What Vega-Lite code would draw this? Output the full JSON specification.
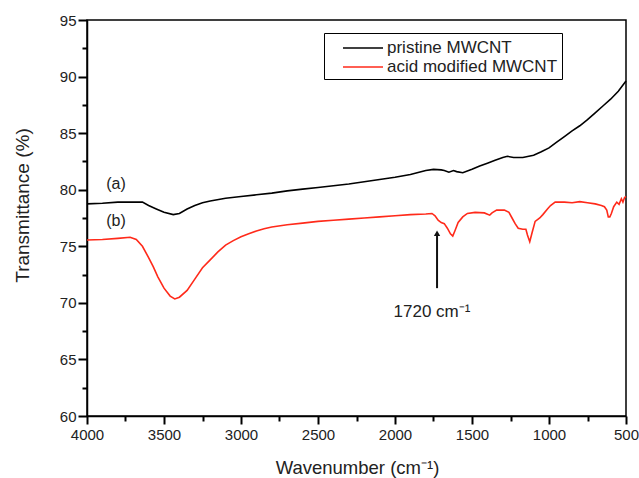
{
  "$schema": "https://vega.github.io/schema/vega-lite/v6.json",
  "autosize": {"type": "none"},
  "width": 539,
  "height": 396,
  "padding": {"left": 87, "top": 20, "right": 13, "bottom": 62},
  "background": "white",
  "config": {
    "view": {"stroke": "#000", "strokeWidth": 1.5},
    "font": "Liberation Sans",
    "axis": {"grid": false, "domainColor": "#000", "domainWidth": 1.5, "labelFont": "Liberation Sans", "labelColor": "#222", "labelFontSize": 15, "titleFont": "Liberation Sans", "titleColor": "#222", "titleFontWeight": "normal"}
  },
  "resolve": {"axis": {"x": "independent", "y": "independent"}},
  "datasets": {
    "spectra": [
      {"wn": 4000, "t": 78.75, "s": "pristine MWCNT"},
      {"wn": 3900, "t": 78.8, "s": "pristine MWCNT"},
      {"wn": 3800, "t": 78.9, "s": "pristine MWCNT"},
      {"wn": 3700, "t": 78.9, "s": "pristine MWCNT"},
      {"wn": 3640, "t": 78.9, "s": "pristine MWCNT"},
      {"wn": 3600, "t": 78.6, "s": "pristine MWCNT"},
      {"wn": 3550, "t": 78.3, "s": "pristine MWCNT"},
      {"wn": 3500, "t": 78.0, "s": "pristine MWCNT"},
      {"wn": 3440, "t": 77.8, "s": "pristine MWCNT"},
      {"wn": 3400, "t": 77.9, "s": "pristine MWCNT"},
      {"wn": 3350, "t": 78.3, "s": "pristine MWCNT"},
      {"wn": 3300, "t": 78.6, "s": "pristine MWCNT"},
      {"wn": 3250, "t": 78.85, "s": "pristine MWCNT"},
      {"wn": 3200, "t": 79.0, "s": "pristine MWCNT"},
      {"wn": 3100, "t": 79.25, "s": "pristine MWCNT"},
      {"wn": 3000, "t": 79.4, "s": "pristine MWCNT"},
      {"wn": 2900, "t": 79.55, "s": "pristine MWCNT"},
      {"wn": 2800, "t": 79.7, "s": "pristine MWCNT"},
      {"wn": 2700, "t": 79.9, "s": "pristine MWCNT"},
      {"wn": 2600, "t": 80.05, "s": "pristine MWCNT"},
      {"wn": 2500, "t": 80.2, "s": "pristine MWCNT"},
      {"wn": 2400, "t": 80.35, "s": "pristine MWCNT"},
      {"wn": 2300, "t": 80.5, "s": "pristine MWCNT"},
      {"wn": 2200, "t": 80.7, "s": "pristine MWCNT"},
      {"wn": 2100, "t": 80.9, "s": "pristine MWCNT"},
      {"wn": 2000, "t": 81.1, "s": "pristine MWCNT"},
      {"wn": 1900, "t": 81.35, "s": "pristine MWCNT"},
      {"wn": 1800, "t": 81.7, "s": "pristine MWCNT"},
      {"wn": 1750, "t": 81.8, "s": "pristine MWCNT"},
      {"wn": 1700, "t": 81.75, "s": "pristine MWCNT"},
      {"wn": 1680, "t": 81.7, "s": "pristine MWCNT"},
      {"wn": 1650, "t": 81.55, "s": "pristine MWCNT"},
      {"wn": 1620, "t": 81.7, "s": "pristine MWCNT"},
      {"wn": 1600, "t": 81.6, "s": "pristine MWCNT"},
      {"wn": 1560, "t": 81.5, "s": "pristine MWCNT"},
      {"wn": 1500, "t": 81.8, "s": "pristine MWCNT"},
      {"wn": 1450, "t": 82.1, "s": "pristine MWCNT"},
      {"wn": 1400, "t": 82.35, "s": "pristine MWCNT"},
      {"wn": 1350, "t": 82.6, "s": "pristine MWCNT"},
      {"wn": 1300, "t": 82.85, "s": "pristine MWCNT"},
      {"wn": 1270, "t": 82.95, "s": "pristine MWCNT"},
      {"wn": 1230, "t": 82.85, "s": "pristine MWCNT"},
      {"wn": 1170, "t": 82.85, "s": "pristine MWCNT"},
      {"wn": 1100, "t": 83.05, "s": "pristine MWCNT"},
      {"wn": 1050, "t": 83.35, "s": "pristine MWCNT"},
      {"wn": 1000, "t": 83.7, "s": "pristine MWCNT"},
      {"wn": 950, "t": 84.2, "s": "pristine MWCNT"},
      {"wn": 900, "t": 84.7, "s": "pristine MWCNT"},
      {"wn": 850, "t": 85.2, "s": "pristine MWCNT"},
      {"wn": 800, "t": 85.65, "s": "pristine MWCNT"},
      {"wn": 750, "t": 86.2, "s": "pristine MWCNT"},
      {"wn": 700, "t": 86.8, "s": "pristine MWCNT"},
      {"wn": 650, "t": 87.4, "s": "pristine MWCNT"},
      {"wn": 600, "t": 88.0, "s": "pristine MWCNT"},
      {"wn": 550, "t": 88.7, "s": "pristine MWCNT"},
      {"wn": 500, "t": 89.6, "s": "pristine MWCNT"},
      {"wn": 4000, "t": 75.55, "s": "acid modified MWCNT"},
      {"wn": 3900, "t": 75.6, "s": "acid modified MWCNT"},
      {"wn": 3800, "t": 75.7, "s": "acid modified MWCNT"},
      {"wn": 3720, "t": 75.8, "s": "acid modified MWCNT"},
      {"wn": 3680, "t": 75.6, "s": "acid modified MWCNT"},
      {"wn": 3640, "t": 75.0, "s": "acid modified MWCNT"},
      {"wn": 3600, "t": 74.0, "s": "acid modified MWCNT"},
      {"wn": 3570, "t": 73.2, "s": "acid modified MWCNT"},
      {"wn": 3540, "t": 72.3, "s": "acid modified MWCNT"},
      {"wn": 3500, "t": 71.3, "s": "acid modified MWCNT"},
      {"wn": 3460, "t": 70.6, "s": "acid modified MWCNT"},
      {"wn": 3430, "t": 70.35, "s": "acid modified MWCNT"},
      {"wn": 3400, "t": 70.5, "s": "acid modified MWCNT"},
      {"wn": 3350, "t": 71.1, "s": "acid modified MWCNT"},
      {"wn": 3300, "t": 72.1, "s": "acid modified MWCNT"},
      {"wn": 3250, "t": 73.1, "s": "acid modified MWCNT"},
      {"wn": 3200, "t": 73.8, "s": "acid modified MWCNT"},
      {"wn": 3150, "t": 74.5, "s": "acid modified MWCNT"},
      {"wn": 3100, "t": 75.1, "s": "acid modified MWCNT"},
      {"wn": 3050, "t": 75.5, "s": "acid modified MWCNT"},
      {"wn": 3000, "t": 75.85, "s": "acid modified MWCNT"},
      {"wn": 2950, "t": 76.1, "s": "acid modified MWCNT"},
      {"wn": 2900, "t": 76.35, "s": "acid modified MWCNT"},
      {"wn": 2850, "t": 76.55, "s": "acid modified MWCNT"},
      {"wn": 2800, "t": 76.7, "s": "acid modified MWCNT"},
      {"wn": 2700, "t": 76.9, "s": "acid modified MWCNT"},
      {"wn": 2600, "t": 77.05, "s": "acid modified MWCNT"},
      {"wn": 2500, "t": 77.2, "s": "acid modified MWCNT"},
      {"wn": 2400, "t": 77.3, "s": "acid modified MWCNT"},
      {"wn": 2300, "t": 77.4, "s": "acid modified MWCNT"},
      {"wn": 2200, "t": 77.5, "s": "acid modified MWCNT"},
      {"wn": 2100, "t": 77.6, "s": "acid modified MWCNT"},
      {"wn": 2000, "t": 77.7, "s": "acid modified MWCNT"},
      {"wn": 1900, "t": 77.8, "s": "acid modified MWCNT"},
      {"wn": 1800, "t": 77.85, "s": "acid modified MWCNT"},
      {"wn": 1760, "t": 77.9, "s": "acid modified MWCNT"},
      {"wn": 1740, "t": 77.7, "s": "acid modified MWCNT"},
      {"wn": 1720, "t": 77.3, "s": "acid modified MWCNT"},
      {"wn": 1700, "t": 77.1, "s": "acid modified MWCNT"},
      {"wn": 1680, "t": 77.0, "s": "acid modified MWCNT"},
      {"wn": 1660, "t": 76.6, "s": "acid modified MWCNT"},
      {"wn": 1640, "t": 76.1, "s": "acid modified MWCNT"},
      {"wn": 1625, "t": 75.9, "s": "acid modified MWCNT"},
      {"wn": 1610, "t": 76.4, "s": "acid modified MWCNT"},
      {"wn": 1590, "t": 77.1, "s": "acid modified MWCNT"},
      {"wn": 1560, "t": 77.6, "s": "acid modified MWCNT"},
      {"wn": 1530, "t": 77.9, "s": "acid modified MWCNT"},
      {"wn": 1480, "t": 78.0, "s": "acid modified MWCNT"},
      {"wn": 1420, "t": 77.95, "s": "acid modified MWCNT"},
      {"wn": 1385, "t": 77.75, "s": "acid modified MWCNT"},
      {"wn": 1370, "t": 77.95, "s": "acid modified MWCNT"},
      {"wn": 1340, "t": 78.2, "s": "acid modified MWCNT"},
      {"wn": 1290, "t": 78.2, "s": "acid modified MWCNT"},
      {"wn": 1260, "t": 78.0, "s": "acid modified MWCNT"},
      {"wn": 1240, "t": 77.5, "s": "acid modified MWCNT"},
      {"wn": 1220, "t": 77.0, "s": "acid modified MWCNT"},
      {"wn": 1200, "t": 76.6, "s": "acid modified MWCNT"},
      {"wn": 1170, "t": 76.5, "s": "acid modified MWCNT"},
      {"wn": 1150, "t": 76.5, "s": "acid modified MWCNT"},
      {"wn": 1140, "t": 76.0, "s": "acid modified MWCNT"},
      {"wn": 1125, "t": 75.4, "s": "acid modified MWCNT"},
      {"wn": 1110, "t": 76.2, "s": "acid modified MWCNT"},
      {"wn": 1090, "t": 77.2, "s": "acid modified MWCNT"},
      {"wn": 1060, "t": 77.5, "s": "acid modified MWCNT"},
      {"wn": 1040, "t": 77.8, "s": "acid modified MWCNT"},
      {"wn": 1010, "t": 78.3, "s": "acid modified MWCNT"},
      {"wn": 990, "t": 78.6, "s": "acid modified MWCNT"},
      {"wn": 960, "t": 78.9, "s": "acid modified MWCNT"},
      {"wn": 900, "t": 78.9, "s": "acid modified MWCNT"},
      {"wn": 850, "t": 78.85, "s": "acid modified MWCNT"},
      {"wn": 800, "t": 78.95, "s": "acid modified MWCNT"},
      {"wn": 750, "t": 78.85, "s": "acid modified MWCNT"},
      {"wn": 700, "t": 78.75, "s": "acid modified MWCNT"},
      {"wn": 660, "t": 78.6, "s": "acid modified MWCNT"},
      {"wn": 640, "t": 78.5, "s": "acid modified MWCNT"},
      {"wn": 625, "t": 78.2, "s": "acid modified MWCNT"},
      {"wn": 615, "t": 77.6, "s": "acid modified MWCNT"},
      {"wn": 605, "t": 77.6, "s": "acid modified MWCNT"},
      {"wn": 595, "t": 77.9, "s": "acid modified MWCNT"},
      {"wn": 580, "t": 78.5, "s": "acid modified MWCNT"},
      {"wn": 560, "t": 78.9, "s": "acid modified MWCNT"},
      {"wn": 545, "t": 78.7, "s": "acid modified MWCNT"},
      {"wn": 530, "t": 79.2, "s": "acid modified MWCNT"},
      {"wn": 520, "t": 78.9, "s": "acid modified MWCNT"},
      {"wn": 510, "t": 79.3, "s": "acid modified MWCNT"},
      {"wn": 500, "t": 79.4, "s": "acid modified MWCNT"}
    ],
    "labels": [
      {"wn": 3812, "t": 80.5, "text": "(a)"},
      {"wn": 3812, "t": 77.2, "text": "(b)"}
    ],
    "note": [
      {"wn": 1760, "t": 69.2, "text": "1720 cm⁻¹"}
    ],
    "arrow": [
      {"wn": 1727, "t": 71.3, "t2": 76.1}
    ],
    "head": [
      {"wn": 1727, "t": 76.15}
    ]
  },
  "layer": [
    {
      "data": {"name": "spectra"},
      "mark": {"type": "line", "strokeWidth": 1.6, "interpolate": "linear"},
      "encoding": {
        "x": {
          "field": "wn", "type": "quantitative",
          "scale": {"domain": [500, 4000], "reverse": true, "nice": false, "zero": false},
          "axis": {
            "orient": "bottom",
            "values": [4000, 3500, 3000, 2500, 2000, 1500, 1000, 500],
            "format": "d",
            "ticks": true,
            "tickSize": 8,
            "tickColor": "#000",
            "tickWidth": 2,
            "labelPadding": 3,
            "labelFlush": false,
            "title": "Wavenumber (cm⁻¹)",
            "titleFontSize": 18.5,
            "titleX": 270,
            "titleY": 51,
            "titleBaseline": "middle"
          }
        },
        "y": {
          "field": "t", "type": "quantitative",
          "scale": {"domain": [60, 95], "nice": false, "zero": false},
          "axis": {
            "orient": "left",
            "values": [60, 65, 70, 75, 80, 85, 90, 95],
            "ticks": true,
            "tickSize": 9,
            "tickColor": "#000",
            "tickWidth": 2,
            "labelPadding": 2,
            "labelFlush": false,
            "title": "Transmittance (%)",
            "titleFontSize": 19,
            "titleAngle": -90,
            "titleX": -65,
            "titleY": 185,
            "titleAlign": "center",
            "titleBaseline": "middle"
          }
        },
        "color": {
          "field": "s", "type": "nominal",
          "scale": {"domain": ["pristine MWCNT", "acid modified MWCNT"], "range": ["#000000", "#ff2a1a"]},
          "legend": {
            "title": null,
            "orient": "none",
            "legendX": 237,
            "legendY": 13,
            "direction": "vertical",
            "strokeColor": "#000",
            "fillColor": "white",
            "padding": 4,
            "symbolType": "M-2,0L2,0",
            "symbolSize": 400,
            "symbolStrokeWidth": 1.5,
            "symbolOffset": 24,
            "labelOffset": 13,
            "labelFontSize": 17,
            "labelLimit": 400,
            "labelColor": "#222",
            "labelFont": "Liberation Sans",
            "rowPadding": 0,
            "labelExpr": "datum.label + '\u00a0\u00a0\u00a0\u00a0\u00a0\u00a0\u00a0'"
          }
        }
      }
    },
    {
      "data": {"name": "labels"},
      "mark": {"type": "text", "fontSize": 16, "color": "#222", "font": "Liberation Sans"},
      "encoding": {
        "x": {"field": "wn", "type": "quantitative", "axis": null},
        "y": {"field": "t", "type": "quantitative", "axis": null},
        "text": {"field": "text"}
      }
    },
    {
      "data": {"name": "note"},
      "mark": {"type": "text", "fontSize": 17, "color": "#222", "font": "Liberation Sans"},
      "encoding": {
        "x": {"field": "wn", "type": "quantitative", "axis": null},
        "y": {"field": "t", "type": "quantitative", "axis": null},
        "text": {"field": "text"}
      }
    },
    {
      "data": {"name": "arrow"},
      "mark": {"type": "rule", "color": "#111", "strokeWidth": 2},
      "encoding": {
        "x": {"field": "wn", "type": "quantitative", "axis": null},
        "y": {"field": "t", "type": "quantitative", "axis": null},
        "y2": {"field": "t2"}
      }
    },
    {
      "data": {"name": "head"},
      "mark": {"type": "point", "shape": "triangle-up", "filled": true, "color": "#111", "size": 40, "opacity": 1},
      "encoding": {
        "x": {
          "field": "wn", "type": "quantitative",
          "axis": {"orient": "bottom", "values": [3750, 3250, 2750, 2250, 1750, 1250, 750], "ticks": true, "tickSize": 5, "tickColor": "#000", "tickWidth": 2, "labels": false, "domain": false, "title": null, "grid": false}
        },
        "y": {
          "field": "t", "type": "quantitative",
          "axis": {"orient": "left", "values": [62.5, 67.5, 72.5, 77.5, 82.5, 87.5, 92.5], "ticks": true, "tickSize": 5, "tickColor": "#000", "tickWidth": 2, "labels": false, "domain": false, "title": null, "grid": false}
        }
      }
    }
  ]
}
